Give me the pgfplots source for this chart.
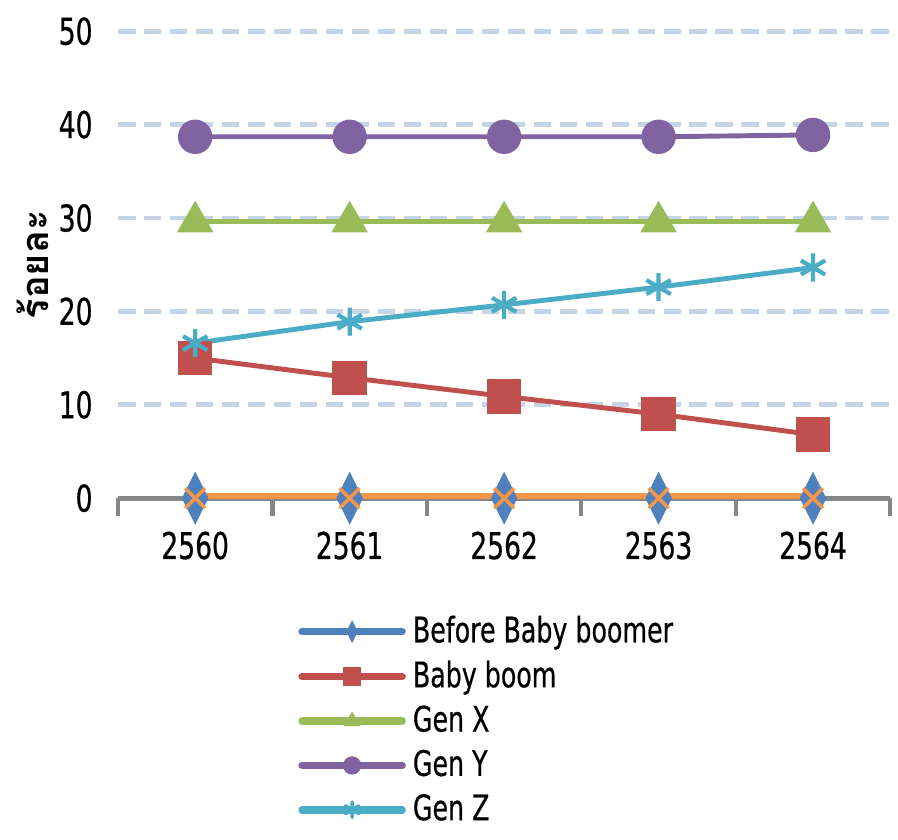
\documentclass[border=0pt]{standalone}
\usepackage{fontspec}
\setmainfont{DejaVu Sans}[FakeStretch=0.72, FakeBold=0.6]
\newfontfamily\thaifont[Script=Thai]{Loma}
\usepackage{pgfplots}
\pgfplotsset{compat=1.18}

\definecolor{cBlue}{HTML}{4F81BD}
\definecolor{cRed}{HTML}{C0504D}
\definecolor{cGreen}{HTML}{9BBB59}
\definecolor{cPurple}{HTML}{8064A2}
\definecolor{cTeal}{HTML}{4BACC6}
\definecolor{cOrange}{HTML}{F79646}
\definecolor{gridblue}{HTML}{C6D4E6}
\definecolor{axgrey}{HTML}{868686}

\begin{document}
\begin{tikzpicture}
\begin{axis}[
  set layers,
  scale only axis,
  width=220pt, height=133pt,
  xmin=-0.5, xmax=4.5, ymin=0, ymax=50,
  xtick={0,1,2,3,4},
  xticklabels={2560,2561,2562,2563,2564},
  minor xtick={-0.5,0.5,...,4.5},
  ytick={0,10,...,50},
  axis x line*=bottom, axis y line*=left,
  x axis line style={-, axgrey, line width=1.4pt},
  y axis line style={draw=none},
  major tick length=0pt,
  minor tick length=5pt,
  xtick align=outside,
  minor x tick style={axgrey, line width=1.2pt},
  ymajorgrids,
  grid style={gridblue, line width=1.4pt, dash pattern=on 5pt off 2.4pt},
  tick label style={font=\fontsize{10.5}{12}\selectfont},
  /pgf/number format/assume math mode=true,
  xticklabel style={yshift=-6pt},
  yticklabel style={xshift=-3.7pt},
  ylabel={\thaifont\bfseries ร้อยละ},
  ylabel style={font=\fontsize{10.8}{12}\selectfont, yshift=-4pt},
  legend style={at={(0.219,-0.22)}, anchor=north west, draw=none,
    font=\fontsize{10}{11}\selectfont, row sep=-0.3pt,
    cells={anchor=west}},
  legend image code/.code={%
    \draw[mark repeat=2, mark phase=2, line width=2.2pt, line cap=round] plot coordinates {(0cm,0cm) (0.5cm,0cm) (1cm,0cm)};},
]
% legend images (small markers, as in the original)
\addlegendimage{cBlue, mark=diamond*, mark size=1.9pt, mark options={yscale=1.5, line width=0.4pt}}
\addlegendentry{Before Baby boomer}
\addlegendimage{cRed, mark=square*, mark size=2.4pt, mark options={line width=0.4pt}}
\addlegendentry{Baby boom}
\addlegendimage{cGreen, mark=triangle*, mark size=2.4pt, mark options={line width=0.4pt}}
\addlegendentry{Gen X}
\addlegendimage{cPurple, mark=*, mark size=2.4pt, mark options={line width=0.4pt}}
\addlegendentry{Gen Y}
\addlegendimage{cTeal, mark=asterisk, mark size=2.2pt, mark options={line width=1pt}}
\addlegendentry{Gen Z}

\addplot[forget plot, cBlue, line width=1.4pt, mark=diamond*, mark size=4pt, mark options={yscale=1.5}] coordinates {(0,0) (1,0) (2,0) (3,0) (4,0)};
\addplot[forget plot, cRed, line width=1.4pt, mark=square*, mark size=4.2pt] coordinates {(0,15.0) (1,12.9) (2,10.9) (3,9.0) (4,6.8)};
\addplot[forget plot, cGreen, line width=1.4pt, mark=triangle*, mark size=4.6pt] coordinates {(0,29.6) (1,29.6) (2,29.6) (3,29.6) (4,29.6)};
\addplot[forget plot, cPurple, line width=1.4pt, mark=*, mark size=4.2pt] coordinates {(0,38.7) (1,38.7) (2,38.7) (3,38.7) (4,38.9)};
\addplot[forget plot, cTeal, line width=1.4pt, mark=asterisk, mark size=4pt, mark options={line width=1.2pt}] coordinates {(0,16.6) (1,18.9) (2,20.7) (3,22.6) (4,24.7)};
\addplot[forget plot, cOrange, line width=2.8pt, mark=x, mark size=4pt, mark options={line width=1pt}] coordinates {(0,0) (1,0) (2,0) (3,0) (4,0)};
\end{axis}
\path (-33.6pt,-95.4pt) rectangle (222.2pt,141.9pt);
\end{tikzpicture}
\end{document}
